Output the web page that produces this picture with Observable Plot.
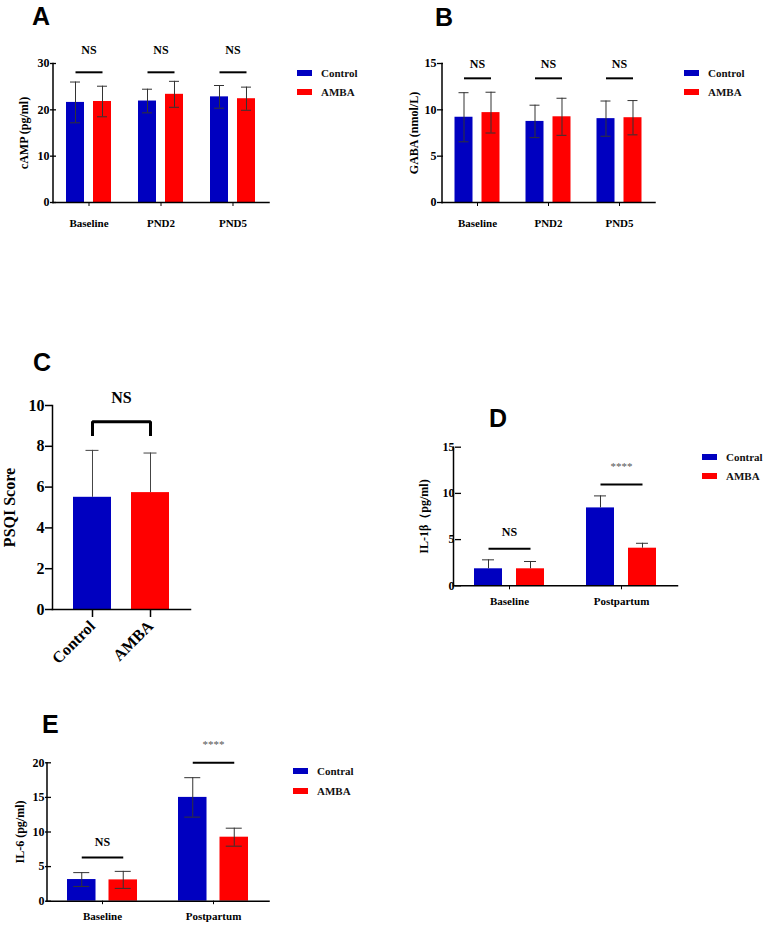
<!DOCTYPE html>
<html>
<head>
<meta charset="utf-8">
<script src="https://cdn.jsdelivr.net/npm/d3@7"></script>
<script src="https://cdn.jsdelivr.net/npm/@observablehq/plot@0.6"></script>
<style>
  body { margin: 0; background: #fff; }
  #fig { position: relative; width: 767px; height: 926px; overflow: hidden; background: #fff; }
  .letter { position: absolute; font: bold 25px 'Liberation Sans', Arial, sans-serif; line-height: 25px; color: #000; }
  .legend { position: absolute; font: bold 11px 'Liberation Serif', 'Times New Roman', serif; color: #111; }
  .legend .row { position: absolute; left: 0; display: flex; align-items: center; height: 14px; white-space: nowrap; }
  .legend .sw { display: inline-block; width: 15px; height: 6px; margin-right: 9px; }
</style>
</head>
<body>
<div id="fig"></div>
<script>
// ---------- data ----------
const groups = ["Control", "AMBA"];
const groupsIL = ["Contral", "AMBA"];
const colors = ["#0000c0", "#ff0000"];

// A: cAMP
const catsA = ["Baseline", "PND2", "PND5"];
const campControl = [21.6, 21.9, 22.8];
const campControlSD = [4.4, 2.55, 2.45];
const campAMBA = [21.8, 23.35, 22.4];
const campAMBASD = [3.3, 2.8, 2.5];
const campSigY = [28.1, 28.1, 28.1];
const campSig = ["NS", "NS", "NS"];
const campTicks = [0, 10, 20, 30];

// B: GABA
const catsB = ["Baseline", "PND2", "PND5"];
const gabaControl = [9.2, 8.75, 9.05];
const gabaControlSD = [2.65, 1.75, 1.9];
const gabaAMBA = [9.7, 9.25, 9.15];
const gabaAMBASD = [2.2, 2.0, 1.85];
const gabaSigY = [13.4, 13.4, 13.4];
const gabaSig = ["NS", "NS", "NS"];
const gabaTicks = [0, 5, 10, 15];

// C: PSQI
const catsC = ["Control", "AMBA"];
const psqiMean = [5.5, 5.73];
const psqiSD = [2.3, 1.94];
const psqiBracketY = [8.5, 9.2];
const psqiSig = "NS";
const psqiTicks = [0, 2, 4, 6, 8, 10];

// D: IL-1β
const catsD = ["Baseline", "Postpartum"];
const il1bControl = [1.84, 8.43];
const il1bControlSD = [0.97, 1.3];
const il1bAMBA = [1.84, 4.07];
const il1bAMBASD = [0.79, 0.53];
const il1bSigY = [4.0, 10.95];
const il1bSig = ["NS", "****"];
const il1bTicks = [0, 5, 10, 15];

// E: IL-6
const catsE = ["Baseline", "Postpartum"];
const il6Control = [3.13, 15.0];
const il6ControlSD = [1.0, 2.85];
const il6AMBA = [3.08, 9.25];
const il6AMBASD = [1.23, 1.3];
const il6SigY = [6.3, 20.0];
const il6Sig = ["NS", "****"];
const il6Ticks = [0, 5, 10, 15, 20];

// ---------- drawing ----------
const FONT = "'Liberation Serif','Times New Roman',serif";
const fig = document.getElementById("fig");

function place(node, left, top) {
  node.style.position = "absolute";
  node.style.left = left + "px";
  node.style.top = top + "px";
  fig.appendChild(node);
}

function grouped(cfg) {
  const rows = [];
  cfg.cats.forEach((c, i) => cfg.groups.forEach((g, j) =>
    rows.push({cat: c, group: g, mean: cfg.means[j][i], sd: cfg.sds[j][i]})));
  const sig = cfg.cats.map((c, i) => ({cat: c, y: cfg.sigY[i], label: cfg.sig[i]}));
  const hi = d => d.mean + d.sd;
  const lo = d => cfg.both ? d.mean - d.sd : d.mean;
  const err = {fx: "cat", x: "group", stroke: "#333", strokeWidth: 1};
  // offset between the plot frame's left edge and the first facet's left edge
  const n = cfg.cats.length;
  const range = cfg.width - cfg.ml - cfg.mr;
  const step = range / (n + 2 * cfg.fxOuter);
  const shift = -(range - step * n) * cfg.fxAlign;
  return Plot.plot({
    width: cfg.width, height: cfg.height,
    marginLeft: cfg.ml, marginRight: cfg.mr, marginTop: cfg.mt, marginBottom: cfg.mb,
    style: {fontFamily: FONT, fontSize: "11px", fontWeight: "bold", color: "#000", background: "transparent", overflow: "visible"},
    fx: {domain: cfg.cats, paddingInner: 0, paddingOuter: cfg.fxOuter, align: cfg.fxAlign, round: false,
         label: null, tickSize: cfg.catTick, tickPadding: cfg.catPad},
    x: {domain: cfg.groups, paddingInner: cfg.xInner, paddingOuter: cfg.xOuter, round: false, axis: null},
    y: {domain: [0, cfg.ymax]},
    color: {domain: cfg.groups, range: colors},
    marks: [
      Plot.barY(rows, {fx: "cat", x: "group", y: "mean", fill: "group"}),
      Plot.ruleX(rows, {...err, y1: lo, y2: hi}),
      Plot.tickY(rows, {...err, y: hi, inset: cfg.capInset}),
      cfg.both ? Plot.tickY(rows, {...err, y: lo, inset: cfg.capInset}) : null,
      Plot.link(sig, {fx: "cat", x1: () => cfg.groups[0], x2: () => cfg.groups[1], y1: "y", y2: "y", stroke: "#000", strokeWidth: 2}),
      Plot.text(sig.filter(d => d.label === "NS"), {fx: "cat", y: "y", text: "label", dy: cfg.nsDy, fontSize: cfg.nsSize}),
      Plot.text(sig.filter(d => d.label !== "NS"), {fx: "cat", y: "y", text: "label", dy: cfg.starDy, fontSize: 11, fontWeight: "normal", fill: "#555"}),
      Plot.axisY({ticks: cfg.ticks, tickSize: cfg.yTick, tickPadding: 1, strokeWidth: 1.3, dx: shift, fontSize: 12,
                  label: cfg.ylabel, labelAnchor: "center", labelArrow: "none", labelOffset: cfg.labelOffset}),
      Plot.frame({facet: "super", anchor: "left", strokeWidth: 1.5}),
      Plot.frame({facet: "super", anchor: "bottom", strokeWidth: 1.5})
    ]
  });
}

function letter(t, left, top) {
  const d = document.createElement("div");
  d.className = "letter";
  d.textContent = t;
  d.style.left = left + "px";
  d.style.top = top + "px";
  fig.appendChild(d);
}

function legend(labels, left, centers) {
  const d = document.createElement("div");
  d.className = "legend";
  d.style.left = left + "px";
  d.style.top = "0px";
  labels.forEach((lab, i) => {
    const r = document.createElement("div");
    r.className = "row";
    r.style.top = (centers[i] - 7) + "px";
    const sw = document.createElement("span");
    sw.className = "sw";
    sw.style.background = colors[i];
    r.appendChild(sw);
    r.appendChild(document.createTextNode(lab));
    d.appendChild(r);
  });
  fig.appendChild(d);
}

// Panel A
place(grouped({
  cats: catsA, groups, means: [campControl, campAMBA], sds: [campControlSD, campAMBASD],
  sigY: campSigY, sig: campSig, ticks: campTicks, ymax: 30, ylabel: "cAMP (pg/ml)", both: true,
  width: 290, height: 210, ml: 56, mr: 25, mt: 33, mb: 38,
  fxOuter: -0.0486, fxAlign: 0.5, xInner: 1/3, xOuter: 0.5, capInset: 4,
  catTick: 4, catPad: 13, yTick: 6, labelOffset: 34, nsDy: -22, nsSize: 12, starDy: -20
}), 0, 30);
letter("A", 32, 3.7);
legend(groups, 297, [73, 92]);

// Panel B
place(grouped({
  cats: catsB, groups, means: [gabaControl, gabaAMBA], sds: [gabaControlSD, gabaAMBASD],
  sigY: gabaSigY, sig: gabaSig, ticks: gabaTicks, ymax: 15, ylabel: "GABA (nmol/L)", both: true,
  width: 300, height: 210, ml: 63, mr: 27, mt: 33, mb: 38,
  fxOuter: -0.0211, fxAlign: 0.5, xInner: 1/3, xOuter: 0.4815, capInset: 4,
  catTick: 4, catPad: 13, yTick: 6, labelOffset: 33, nsDy: -14.5, nsSize: 12, starDy: -20
}), 380, 30);
letter("B", 435, 4.7);
legend(groups, 684, [72.7, 91.7]);

// Panel C
const psqiRows = catsC.map((c, i) => ({group: c, mean: psqiMean[i], sd: psqiSD[i]}));
const bracket = [
  {x: catsC[0], y: psqiBracketY[0]}, {x: catsC[0], y: psqiBracketY[1]},
  {x: catsC[1], y: psqiBracketY[1]}, {x: catsC[1], y: psqiBracketY[0]}
];
place(Plot.plot({
  width: 220, height: 320, marginLeft: 52, marginRight: 30, marginTop: 35, marginBottom: 81,
  style: {fontFamily: FONT, fontSize: "16px", fontWeight: "bold", color: "#000", background: "transparent", overflow: "visible"},
  x: {domain: catsC, paddingInner: 0.345, paddingOuter: 0.362, round: false},
  y: {domain: [0, 10]},
  color: {domain: catsC, range: colors},
  marks: [
    Plot.barY(psqiRows, {x: "group", y: "mean", fill: "group"}),
    Plot.ruleX(psqiRows, {x: "group", y1: "mean", y2: d => d.mean + d.sd, stroke: "#444"}),
    Plot.tickY(psqiRows, {x: "group", y: d => d.mean + d.sd, inset: 12.5, stroke: "#444"}),
    Plot.line(bracket, {x: "x", y: "y", strokeWidth: 3, strokeLinejoin: "miter", strokeLinecap: "butt"}),
    Plot.text([psqiSig], {text: d => d, y: () => psqiBracketY[1], dy: -24, fontSize: 16}),
    Plot.axisY({ticks: psqiTicks, tickSize: 7, tickPadding: 1, strokeWidth: 1.5,
                label: "PSQI Score", labelAnchor: "center", labelArrow: "none", labelOffset: 49}),
    Plot.axisX({tickSize: 8, tickRotate: -45, tickPadding: 6, strokeWidth: 1.5, label: null}),
    Plot.frame({anchor: "left", strokeWidth: 1.5}),
    Plot.frame({anchor: "bottom", strokeWidth: 1.5})
  ]
}), 0, 370);
letter("C", 33, 349.7);

// Panel D
place(grouped({
  cats: catsD, groups: groupsIL, means: [il1bControl, il1bAMBA], sds: [il1bControlSD, il1bAMBASD],
  sigY: il1bSigY, sig: il1bSig, ticks: il1bTicks, ymax: 15, ylabel: "IL-1β（pg/ml)", both: false,
  width: 300, height: 200, ml: 81, mr: 11, mt: 26.7, mb: 34.7,
  fxOuter: -0.0714, fxAlign: 0.5, xInner: 1/3, xOuter: 0.5, capInset: 8,
  catTick: 4, catPad: 7, yTick: 6, labelOffset: 34, nsDy: -17, nsSize: 12, starDy: -18
}), 380, 420);
letter("D", 489, 405.7);
legend(groupsIL, 702, [457.3, 475.7]);

// Panel E
place(grouped({
  cats: catsE, groups: groupsIL, means: [il6Control, il6AMBA], sds: [il6ControlSD, il6AMBASD],
  sigY: il6SigY, sig: il6Sig, ticks: il6Ticks, ymax: 20, ylabel: "IL-6 (pg/ml)", both: true,
  width: 280, height: 191, ml: 51, mr: 20, mt: 27.3, mb: 25.3,
  fxOuter: -0.0586, fxAlign: 0.346, xInner: 0.313, xOuter: 0.494, capInset: 6.25,
  catTick: 3.5, catPad: 7, yTick: 6, labelOffset: 32, nsDy: -15, nsSize: 12, starDy: -18
}), 0, 735);
letter("E", 42, 711.7);
legend(groupsIL, 293, [771, 790.5]);
</script>
</body>
</html>
